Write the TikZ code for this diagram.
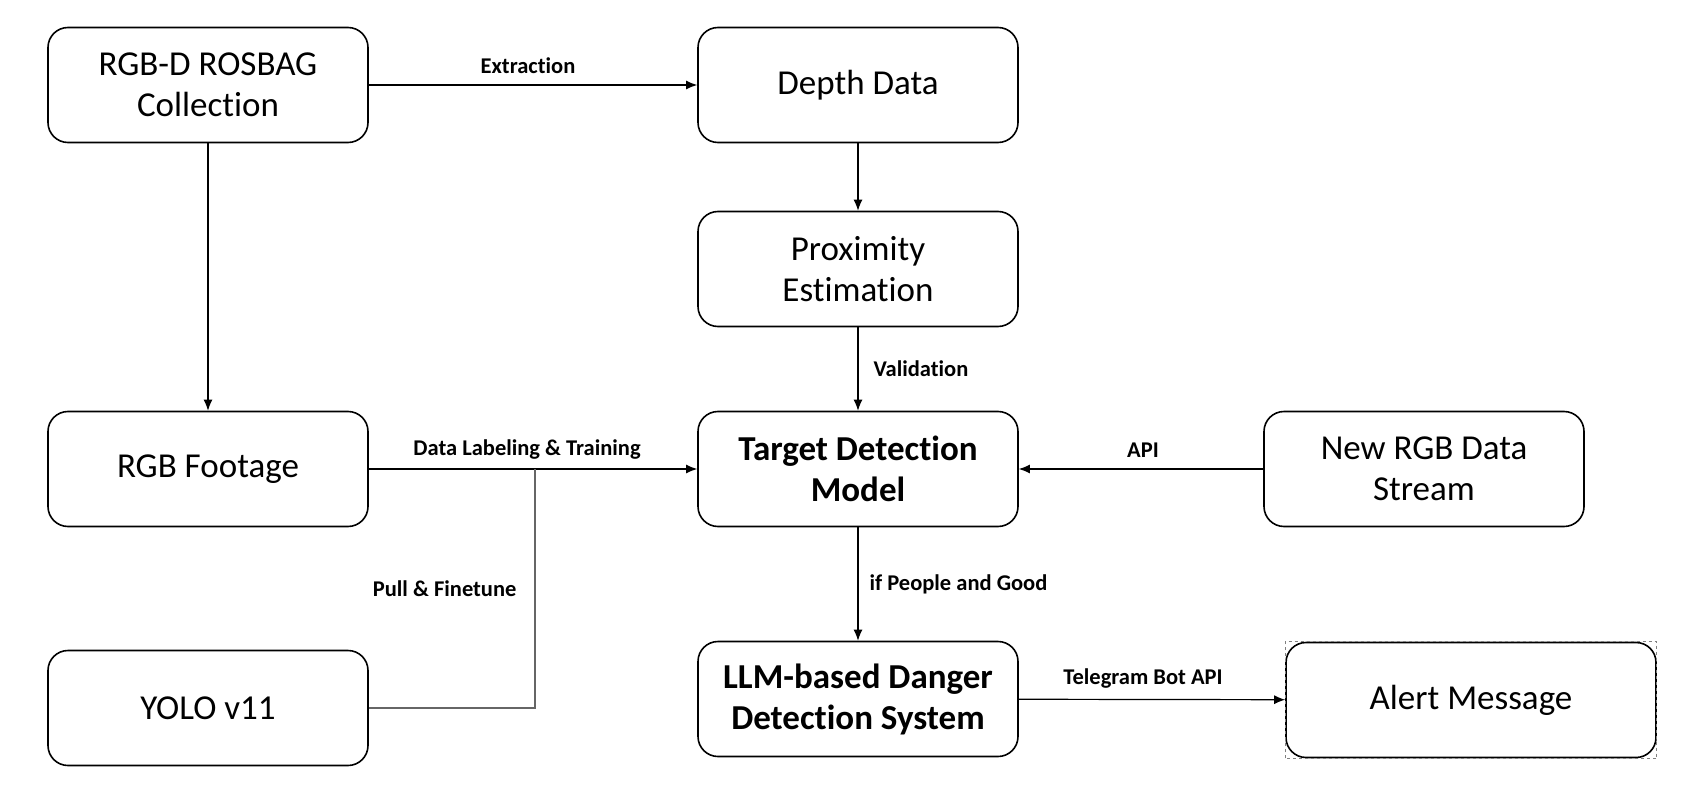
\documentclass[tikz,border=0pt]{standalone}
\usepackage{fontspec}
\setmainfont{Carlito}[Ligatures=CommonOff]
\usepackage{tikz}
\usetikzlibrary{arrows.meta}

\tikzset{
  block/.style={shape=rectangle,rounded corners=20pt,draw,line width=1.6pt,
    minimum width=320pt,minimum height=115pt,align=center,font=\fontsize{35}{41}\selectfont},
  lbl/.style={font=\fontsize{22.5}{27}\selectfont\bfseries,inner sep=4pt},
}

\begin{document}
\begin{tikzpicture}[x=1pt,y=-1pt,>={Latex[length=11pt,width=9pt]},line width=1.2pt]
\useasboundingbox (0,0) rectangle (1688,794);
\path (208,85) node (rosbag) [block] {RGB-D ROSBAG\\Collection};
\path (858,85) node (depth) [block] {Depth Data};
\path (858,269) node (prox) [block] {Proximity\\Estimation};
\path (208,469) node (footage) [block] {RGB Footage};
\path (858,469) node (target) [block] {\bfseries Target Detection\\\bfseries Model};
\path (1424,469) node (stream) [block] {New RGB Data\\Stream};
\path (208,708) node (yolo) [block] {YOLO v11};
\path (858,699) node (llm) [block] {\bfseries LLM-based Danger\\\bfseries Detection System};
\path (1471,700) node (alert) [block,minimum width=370pt] {Alert Message};
% selection frame round the alert box
\draw [gray,dashed,line width=0.8pt] (alert.south west) rectangle (alert.north east);

\path (535,469) coordinate (join);

\draw [->] (rosbag) to node [lbl,above=7pt,xshift=-5pt] (extract) {Extraction} (depth);
\draw [->] (rosbag) to (footage);
\draw [->] (depth) to (prox);
\draw [->] (prox) to node [lbl,right,xshift=11pt] (valid) {Validation} (target);
\draw [->] (footage) to node [lbl,above=5pt,xshift=-6pt] (train) {Data Labeling \& Training} (target);
\draw [->] (stream) to node [lbl,above=7pt,xshift=2pt] (api) {API} (target);
\draw [->] (target) to node [lbl,right,xshift=7pt] (ifgood) {if People and Good} (llm);
\draw [->] (llm) to node [lbl,above=7pt,xshift=-9pt] (bot) {Telegram Bot API} (alert);
\draw [gray!80!black] (yolo) -| node [lbl,pos=0.75,left,xshift=-14pt,black] (pull) {Pull \& Finetune} (join);
\end{tikzpicture}
\end{document}
